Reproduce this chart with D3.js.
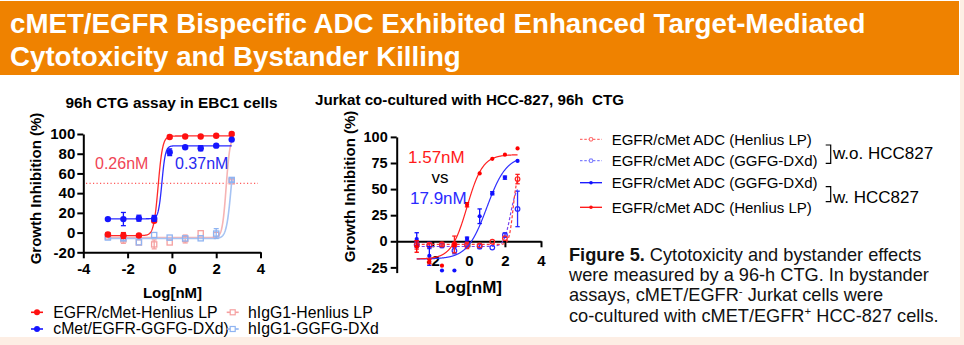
<!DOCTYPE html>
<html><head><meta charset="utf-8">
<script src="https://cdn.jsdelivr.net/npm/d3@7"></script>
<style>
html,body{margin:0;padding:0;background:#fdeee4;}
svg{display:block;font-family:"Liberation Sans",Arial,Helvetica,sans-serif;}
</style></head><body>
<svg id="c" width="964" height="345"></svg>
<script>
// ---------------- data ----------------
const titleLines = ["cMET/EGFR Bispecific ADC Exhibited Enhanced Target-Mediated", "Cytotoxicity and Bystander Killing"];
const logConc = [-2.89, -2.19, -1.49, -0.80, -0.10, 0.60, 1.30, 2.00, 2.70];

// Left panel: 96h CTG assay in EBC1 cells
const ebc1Title = "96h CTG assay in EBC1 cells";
const ebc1XTicks = [-4, -2, 0, 2, 4];
const ebc1YTicks = [-20, 0, 20, 40, 60, 80, 100];
const ebc1Names = ["EGFR/cMet-Henlius LP", "cMet/EGFR-GGFG-DXd)", "hIgG1-Henlius LP", "hIgG1-GGFG-DXd"];
const ebc1HenliusLP = [-2, -3, -3, 12, 97, 97.5, 97.5, 98.3, 100];
const ebc1HenliusLPErr = [2, 3, 1, 0, 1.5, 1, 1, 1, 1.5];
const ebc1GGFG = [13.7, 13.7, 14.6, 14.4, 81.5, 86.5, 85.5, 88.2, 94.3];
const ebc1GGFGErr = [1, 6.7, 3, 3, 3.4, 1, 2.5, 1, 1];
const ebc1IgGHenlius = [-4, -6.9, -10, -12, -10, -6.5, -0.7, -2.4, 52];
const ebc1IgGHenliusErr = [1, 4, 1, 4.5, 1, 4, 1, 1, 1.5];
const ebc1IgGGGFG = [-5, -5.9, -9.9, -2.5, -5.1, -5.9, -5.8, -1, 53.4];
const ebc1IgGGGFGErr = [1, 2, 1, 1, 1, 1, 1, 5, 2];
// fitted 4PL parameters (order as ebc1Names)
const ebc1FitBottom = [-3, 14, -5, -6];
const ebc1FitTop = [98, 88, 98, 100];
const ebc1FitLogEC50 = [-0.62, -0.45, 2.45, 2.68];
const ebc1FitHill = [4.3, 5.5, 5, 4];
const ebc1EC50Labels = ["0.26nM", "0.37nM"];
const ebc1RefLine = 50;

// Right panel: Jurkat co-cultured with HCC-827
const hccTitle = "Jurkat co-cultured with HCC-827, 96h\u00a0\u00a0CTG";
const hccXTicks = [-2, 0, 2, 4];
const hccYTicks = [-25, 0, 25, 50, 75, 100];
const hccNames = ["EGFR/cMet ADC (Henlius LP)", "EGFR/cMet ADC (GGFG-DXd)", "EGFR/cMet ADC (GGFG-DXd)", "EGFR/cMet ADC (Henlius LP)"];
const hccWoHenlius = [-3.5, -3.5, -3, -3, -4, -4, -0.4, 3, 59.6];
const hccWoHenliusErr = [4, 2, 2, 8, 3, 1, 1, 1, 4.5];
const hccWoGGFG = [-3, -4, -4, -9, -3, -5, -6, 6, 31];
const hccWoGGFGErr = [3, 3, 2, 3, 2, 2, 1, 2, 17];
const hccWGGFG = [2.2, -14, -28, -28, 2.5, 24, 46, 61, 77];
const hccWGGFGErr = [6, 9, 0, 0, 1.5, 7, 1.5, 1.5, 1];
const hccWHenlius = [-5, -19.5, -23.4, -3, 35, 65, 79, 83, 89];
const hccWHenliusErr = [5.5, 2, 0, 2, 2, 1, 1, 1, 0.5];
// fitted 4PL parameters (order: w/o Henlius, w/o GGFG, w GGFG, w Henlius)
const hccFitBottom = [-3, -5, -17, -17];
const hccFitTop = [65, 55, 82, 83];
const hccFitLogEC50 = [2.45, 2.3, 1.0, -0.1];
const hccFitHill = [4, 2.5, 0.8, 1.0];
const hccEC50Labels = ["1.57nM", "vs", "17.9nM"];
const hccGroups = ["w.o. HCC827", "w. HCC827"];

const captionBold = "Figure 5.";
const captionLines = [" Cytotoxicity and bystander effects", "were measured by a 96-h CTG. In bystander"];

// ---------------- drawing ----------------
const FONT = '"Liberation Sans",Arial,Helvetica,sans-serif';
const svg = d3.select("#c");
svg.append("rect").attr("x", 0).attr("y", 0).attr("width", 960).attr("height", 337).attr("fill", "#fff");
svg.append("rect").attr("x", 0).attr("y", 1).attr("width", 959).attr("height", 74).attr("fill", "#ef8200");
svg.selectAll("text.title").data(titleLines).join("text").attr("class", "title")
  .attr("x", 10).attr("y", (d, i) => 33 + i * 32.5)
  .attr("fill", "#fff").attr("font-weight", "bold").attr("font-size", 27.7).text(d => d);

function fourPL(b, t, c, h) { return x => b + (t - b) / (1 + Math.pow(10, h * (c - x))); }
const curveX = d3.range(-2.89, 2.705, 0.01);

function styleAxis(g, fs) {
  g.attr("font-family", FONT).attr("font-size", fs).attr("font-weight", "bold");
  g.select(".domain").attr("stroke", "#000").attr("stroke-width", 2);
  g.selectAll(".tick line").attr("stroke", "#000").attr("stroke-width", 2);
  g.selectAll(".tick text").attr("fill", "#000");
}

function drawErr(g, xs, ys, vals, errs, color, cap) {
  vals.forEach((v, i) => {
    const e = errs[i];
    if (!e || e < 1.2) return;
    const x = xs(logConc[i]);
    g.append("line").attr("x1", x).attr("x2", x).attr("y1", ys(v - e)).attr("y2", ys(v + e)).attr("stroke", color).attr("stroke-width", 1.3);
    [v - e, v + e].forEach(w => g.append("line").attr("x1", x - cap).attr("x2", x + cap).attr("y1", ys(w)).attr("y2", ys(w)).attr("stroke", color).attr("stroke-width", 1.3));
  });
}
function drawMarkers(g, xs, ys, vals, color, kind, size) {
  vals.forEach((v, i) => {
    const x = xs(logConc[i]), y = ys(v);
    if (kind === "dot") g.append("circle").attr("cx", x).attr("cy", y).attr("r", size).attr("fill", color);
    else if (kind === "ocircle") g.append("circle").attr("cx", x).attr("cy", y).attr("r", size).attr("fill", "none").attr("stroke", color).attr("stroke-width", 1.2);
    else g.append("rect").attr("x", x - size / 2).attr("y", y - size / 2).attr("width", size).attr("height", size).attr("fill", "none").attr("stroke", color).attr("stroke-width", 1.3);
  });
}
function drawCurve(g, xs, ys, f, color, width, dash) {
  const line = d3.line().x(d => xs(d)).y(d => ys(Math.max(ys.domain()[0], Math.min(ys.domain()[1] + 5, f(d)))));
  const p = g.append("path").attr("d", line(curveX)).attr("fill", "none").attr("stroke", color).attr("stroke-width", width);
  if (dash) p.attr("stroke-dasharray", dash);
}

// ---- Left panel ----
const xL = d3.scaleLinear().domain([-4, 4]).range([83.3, 260.5]);
const yL = d3.scaleLinear().domain([-20, 100]).range([252.3, 134]);
const gL = svg.append("g");
gL.append("text").attr("x", 171.5).attr("y", 107.5).attr("text-anchor", "middle").attr("font-weight", "bold").attr("font-size", 15.4).text(ebc1Title);
gL.append("text").attr("transform", "translate(41,188.5) rotate(-90)").attr("text-anchor", "middle").attr("font-weight", "bold").attr("font-size", 15).text("Growth Inhibition (%)");
gL.append("text").attr("x", 172.5).attr("y", 298).attr("text-anchor", "middle").attr("font-weight", "bold").attr("font-size", 15).text("Log[nM]");
const axLy = gL.append("g").attr("transform", `translate(${xL(-4)},0)`)
  .call(d3.axisLeft(yL).tickValues(ebc1YTicks).tickSize(6).tickSizeOuter(0).tickPadding(2).tickFormat(d => String(d)));
styleAxis(axLy, 15);
const axLx = gL.append("g").attr("transform", `translate(0,${yL(-20)})`)
  .call(d3.axisBottom(xL).tickValues(ebc1XTicks).tickSize(6).tickSizeOuter(0).tickPadding(5).tickFormat(d => String(d)));
styleAxis(axLx, 15);
gL.append("line").attr("x1", 86).attr("x2", 258).attr("y1", yL(ebc1RefLine)).attr("y2", yL(ebc1RefLine))
  .attr("stroke", "#ff3030").attr("stroke-width", 1).attr("stroke-dasharray", "1.2,2.3");

const ebc1Vals = [ebc1HenliusLP, ebc1GGFG, ebc1IgGHenlius, ebc1IgGGGFG];
const ebc1Errs = [ebc1HenliusLPErr, ebc1GGFGErr, ebc1IgGHenliusErr, ebc1IgGGGFGErr];
const ebc1Colors = ["#ff1010", "#1515ff", "#f5a0a0", "#8fb4f2"];
const ebc1CurveColors = ["#ff2a2a", "#2a2aff", "#f6b4b4", "#a6c3f3"];
const ebc1Kinds = ["dot", "dot", "square", "square"];
[2, 3, 0, 1].forEach(k => {
  const gs = gL.append("g");
  drawCurve(gs, xL, yL, fourPL(ebc1FitBottom[k], ebc1FitTop[k], ebc1FitLogEC50[k], ebc1FitHill[k]), ebc1CurveColors[k], k < 2 ? 1.3 : 1.6);
  drawErr(gs, xL, yL, ebc1Vals[k], ebc1Errs[k], ebc1Colors[k], 2.5);
  drawMarkers(gs, xL, yL, ebc1Vals[k], ebc1Colors[k], ebc1Kinds[k], k < 2 ? 3.2 : 5.2);
});
gL.append("text").attr("x", 95).attr("y", 169.3).attr("font-size", 16).attr("fill", "#f04555").text(ebc1EC50Labels[0]);
gL.append("text").attr("x", 175).attr("y", 169.3).attr("font-size", 16).attr("fill", "#2828f0").text(ebc1EC50Labels[1]);

// left legend
const legL = [
  {x: 31, y: 312.3, k: 0}, {x: 31, y: 329, k: 1}, {x: 226.7, y: 312.3, k: 2}, {x: 226.7, y: 329, k: 3}
];
legL.forEach(o => {
  const c = ebc1Colors[o.k];
  gL.append("line").attr("x1", o.x).attr("x2", o.x + 12).attr("y1", o.y).attr("y2", o.y).attr("stroke", c).attr("stroke-width", 1.6);
  if (o.k < 2) gL.append("circle").attr("cx", o.x + 6).attr("cy", o.y).attr("r", 3).attr("fill", c);
  else gL.append("rect").attr("x", o.x + 3.5).attr("y", o.y - 2.5).attr("width", 5).attr("height", 5).attr("fill", "#fff").attr("stroke", c).attr("stroke-width", 1.2);
  gL.append("text").attr("x", o.x + (o.k < 2 ? 22.3 : 21.3)).attr("y", o.y + 5.3).attr("font-size", 15.8).text(ebc1Names[o.k]);
});

// ---- Right panel ----
const xR = d3.scaleLinear().domain([-4, 4]).range([396.7, 541]);
const yR = d3.scaleLinear().domain([-30, 100]).range([272.6, 136.9]);
const gR = svg.append("g");
gR.append("text").attr("x", 315).attr("y", 105).attr("font-weight", "bold").attr("font-size", 14).attr("textLength", 309).attr("lengthAdjust", "spacingAndGlyphs").text(hccTitle);
gR.append("text").attr("transform", "translate(355,186.5) rotate(-90)").attr("text-anchor", "middle").attr("font-weight", "bold").attr("font-size", 15).text("Growth Inhibition (%)");
gR.append("text").attr("x", 468.5).attr("y", 293).attr("text-anchor", "middle").attr("font-weight", "bold").attr("font-size", 17).text("Log[nM]");
const axRy = gR.append("g").attr("transform", `translate(${xR(-4)},0)`)
  .call(d3.axisLeft(yR).tickValues(hccYTicks).tickSize(6).tickSizeOuter(0).tickPadding(3).tickFormat(d => String(d)));
styleAxis(axRy, 14.5);
const axRx = gR.append("g").attr("transform", `translate(0,${yR(0)})`)
  .call(d3.axisBottom(xR).tickValues(hccXTicks).tickSize(6).tickSizeOuter(0).tickPadding(8).tickFormat(d => String(d)));
styleAxis(axRx, 15);

const hccVals = [hccWoHenlius, hccWoGGFG, hccWGGFG, hccWHenlius];
const hccErrs = [hccWoHenliusErr, hccWoGGFGErr, hccWGGFGErr, hccWHenliusErr];
const hccColors = ["#ff2020", "#2a2aff", "#1010ff", "#ff0000"];
const hccCurveColors = ["#ff3a3a", "#7a45ee", "#3030ff", "#ff2020"];
const hccKinds = ["ocircle", "ocircle", "dot", "dot"];
[1, 0, 2, 3].forEach(k => {
  const gs = gR.append("g");
  drawCurve(gs, xR, yR, fourPL(hccFitBottom[k], hccFitTop[k], hccFitLogEC50[k], hccFitHill[k]), hccCurveColors[k], 1.2, k < 2 ? "3,2" : null);
  drawErr(gs, xR, yR, hccVals[k], hccErrs[k], hccColors[k], 2.2);
  drawMarkers(gs, xR, yR, hccVals[k], hccColors[k], hccKinds[k], k < 2 ? 2.3 : 2.1);
});
gR.append("text").attr("x", 408).attr("y", 163.3).attr("font-size", 17).attr("fill", "#ff1a1a").text(hccEC50Labels[0]);
gR.append("text").attr("x", 440).attr("y", 183.3).attr("text-anchor", "middle").attr("font-size", 17).attr("fill", "#000").text(hccEC50Labels[1]);
gR.append("text").attr("x", 410).attr("y", 204).attr("font-size", 17).attr("fill", "#2a2aff").text(hccEC50Labels[2]);

// right legend
const legRY = [139.3, 160.7, 182.7, 207.3];
const legRLine = ["#ff7070", "#8080ff", "#1010ff", "#ff1010"];
legRY.forEach((y, k) => {
  const ln = gR.append("line").attr("x1", 580).attr("x2", 602).attr("y1", y).attr("y2", y).attr("stroke", legRLine[k]).attr("stroke-width", 1.3);
  if (k < 2) {
    ln.attr("stroke-dasharray", "2.5,1.8");
    gR.append("circle").attr("cx", 591).attr("cy", y).attr("r", 1.8).attr("fill", "#fff").attr("stroke", legRLine[k]).attr("stroke-width", 1.1);
  } else {
    gR.append("circle").attr("cx", 591).attr("cy", y).attr("r", 1.8).attr("fill", legRLine[k]);
  }
  gR.append("text").attr("x", 611.7).attr("y", y + 5.6).attr("font-size", 15).text(hccNames[k]);
});
[[145, 163.3, 159], [186.7, 201.7, 202.7]].forEach((b, i) => {
  gR.append("path").attr("d", `M825.7,${b[0]}H830.7V${b[1]}H825.7`).attr("fill", "none").attr("stroke", "#000").attr("stroke-width", 1.2);
  gR.append("text").attr("x", 833).attr("y", b[2]).attr("font-size", 17).text(hccGroups[i]);
});

// caption
const cap = svg.append("g").attr("font-size", 18.2).attr("fill", "#111");
const c1 = cap.append("text").attr("x", 569).attr("y", 261);
c1.append("tspan").attr("font-weight", "bold").text(captionBold);
c1.append("tspan").text(captionLines[0]);
cap.append("text").attr("x", 569).attr("y", 281.3).text(captionLines[1]);
const c3 = cap.append("text").attr("x", 569).attr("y", 301.3);
c3.append("tspan").text("assays, cMET/EGFR");
c3.append("tspan").attr("font-size", 11.5).attr("dy", -6.5).text("-");
c3.append("tspan").attr("dy", 6.5).text(" Jurkat cells were");
const c4 = cap.append("text").attr("x", 569).attr("y", 321.7);
c4.append("tspan").text("co-cultured with cMET/EGFR");
c4.append("tspan").attr("font-size", 11.5).attr("dy", -6.5).text("+");
c4.append("tspan").attr("dy", 6.5).text(" HCC-827 cells.");
</script>
</body></html>
